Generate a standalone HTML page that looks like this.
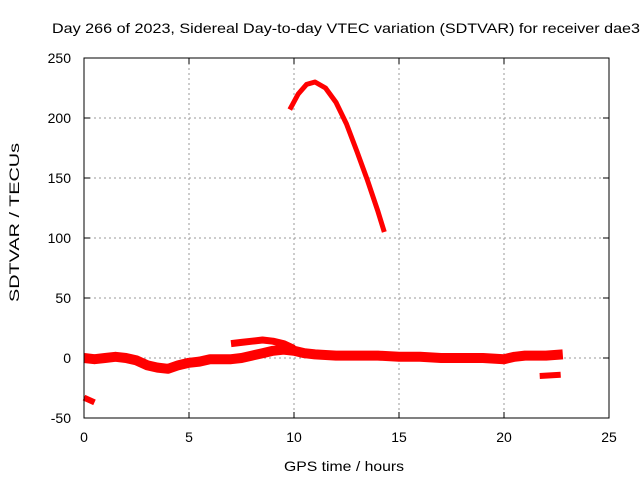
<!DOCTYPE html>
<html><head><meta charset="utf-8"><style>
body{margin:0;background:#fff;font-family:"Liberation Sans",sans-serif}
svg text{font-family:"Liberation Sans",sans-serif;font-size:14px;fill:#000}
</style></head><body>
<svg id="chart" width="640" height="480">
<text x="52" y="33" textLength="588" lengthAdjust="spacingAndGlyphs">Day 266 of 2023, Sidereal Day-to-day VTEC variation (SDTVAR) for receiver dae3</text>
<g id="grid"></g>
<g id="ticks"></g>
<g id="series"></g>
<rect x="84" y="58" width="525" height="360" fill="none" stroke="#000" stroke-width="1"/>
<text x="284" y="471" textLength="120" lengthAdjust="spacingAndGlyphs">GPS time / hours</text>
<text transform="translate(19,302) rotate(-90)" textLength="159" lengthAdjust="spacingAndGlyphs">SDTVAR / TECUs</text>
</svg>
<script>
const xTicks=[0,5,10,15,20,25];
const yTicks=[-50,0,50,100,150,200,250];
const mainX=[0,0.5,1,1.5,2,2.5,3,3.5,4,4.5,5,5.5,6,7,7.5,8,8.5,9,9.5,10,10.5,11,12,13,14,15,16,17,18,19,20,20.5,21,22,22.8];
const mainY=[0,-1,0,1,0,-2,-6,-8,-9,-6,-4,-3,-1,-1,0,2,4,6,7,6,4,3,2,2,2,1,1,0,0,0,-1,1,2,2,3];
const arcLowX=[7,7.5,8,8.5,9,9.5,10];
const arcLowY=[12,13,14,15,14,12,8];
const peakX=[9.8,10.2,10.6,11,11.5,12,12.5,13,13.5,14,14.3];
const peakY=[207,220,228,230,225,213,195,172,148,122,105];
const startX=[0,0.5];
const startY=[-33,-37];
const endX=[21.7,22.7];
const endY=[-15,-14];
const X=v=>84+v*21, Y=v=>358-v*1.2;
const NS='http://www.w3.org/2000/svg';
const grid=document.getElementById('grid'),ticks=document.getElementById('ticks'),ser=document.getElementById('series');
function mk(t,a,p){const e=document.createElementNS(NS,t);for(const k in a)e.setAttribute(k,a[k]);p.appendChild(e);return e;}
xTicks.forEach(t=>{
 if(t>0&&t<25){const g=mk('line',{x1:X(t),x2:X(t),y1:58,y2:418,stroke:'#999','stroke-dasharray':'2,3'},grid);
 
 }
 const l=mk('text',{x:X(t),y:442,'text-anchor':'middle'},ticks);l.textContent=t;
 
 
 mk('line',{x1:X(t),x2:X(t),y1:418,y2:412,stroke:'#000'},ticks);mk('line',{x1:X(t),x2:X(t),y1:58,y2:64,stroke:'#000'},ticks);
});
yTicks.forEach(t=>{
 if(t>-50&&t<250){const g=mk('line',{x1:84,x2:609,y1:Y(t),y2:Y(t),stroke:'#999','stroke-dasharray':'2,3'},grid);
 
 }
 const l=mk('text',{x:71,y:Y(t)+5,'text-anchor':'end'},ticks);l.textContent=t;
 
 
 mk('line',{x1:84,x2:90,y1:Y(t),y2:Y(t),stroke:'#000'},ticks);mk('line',{x1:609,x2:603,y1:Y(t),y2:Y(t),stroke:'#000'},ticks);
});
function line(xs,ys,w,name){
 const p=mk('polyline',{points:xs.map((x,i)=>X(x)+','+Y(ys[i])).join(' '),fill:'none',stroke:'#f00','stroke-width':w,'stroke-linejoin':'round'},ser);
 
 
}
line(mainX,mainY,10,'main-series');
line(arcLowX,arcLowY,7,'arc-low-series');
line(peakX,peakY,5,'peak-series');
line(startX,startY,6,'start-segment');
line(endX,endY,6,'end-segment');
</script>
</body></html>
